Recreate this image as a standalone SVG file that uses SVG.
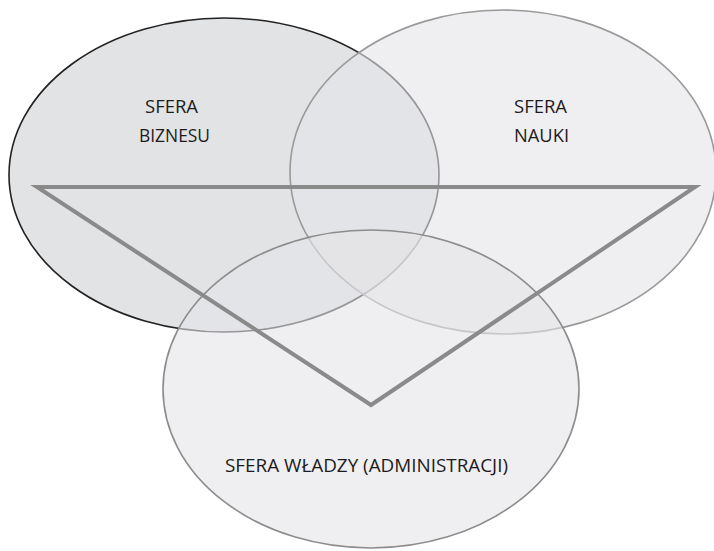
<svg xmlns="http://www.w3.org/2000/svg" width="714" height="551" viewBox="0 0 714 551">
  <style>
    .label { font-family: "Open Sans", "Liberation Sans", sans-serif; font-size: 19px; fill: #1e1b1c; }
    .sphere-light { fill: #e4e5e7; fill-opacity: 0.6; }
  </style>
  <rect width="714" height="551" fill="#ffffff"/>

  <g id="sfera-biznesu">
    <ellipse cx="224" cy="175" rx="215" ry="157" fill="#e2e3e5" stroke="#222222" stroke-width="1.6"/>
    <text class="label" x="145" y="113" textLength="53" lengthAdjust="spacingAndGlyphs">SFERA</text>
    <text class="label" x="139" y="142" textLength="71" lengthAdjust="spacingAndGlyphs">BIZNESU</text>
  </g>

  <g id="sfera-nauki">
    <ellipse class="sphere-light" cx="503" cy="172" rx="213" ry="162" stroke="#9a9a9a" stroke-width="1.6"/>
    <text class="label" x="514" y="113" textLength="53" lengthAdjust="spacingAndGlyphs">SFERA</text>
    <text class="label" x="514" y="142" textLength="55" lengthAdjust="spacingAndGlyphs">NAUKI</text>
  </g>

  <g id="sfera-wladzy">
    <ellipse class="sphere-light" cx="371" cy="389" rx="208" ry="159" stroke="#8c8c8c" stroke-width="1.6"/>
    <text class="label" x="225" y="472" textLength="283" lengthAdjust="spacingAndGlyphs">SFERA WŁADZY (ADMINISTRACJI)</text>
  </g>

  <g id="connectors">
    <polygon points="37,187 695,187 371,405" fill="none" stroke="#8a8a8a" stroke-width="4" stroke-linejoin="miter"/>
  </g>
</svg>
